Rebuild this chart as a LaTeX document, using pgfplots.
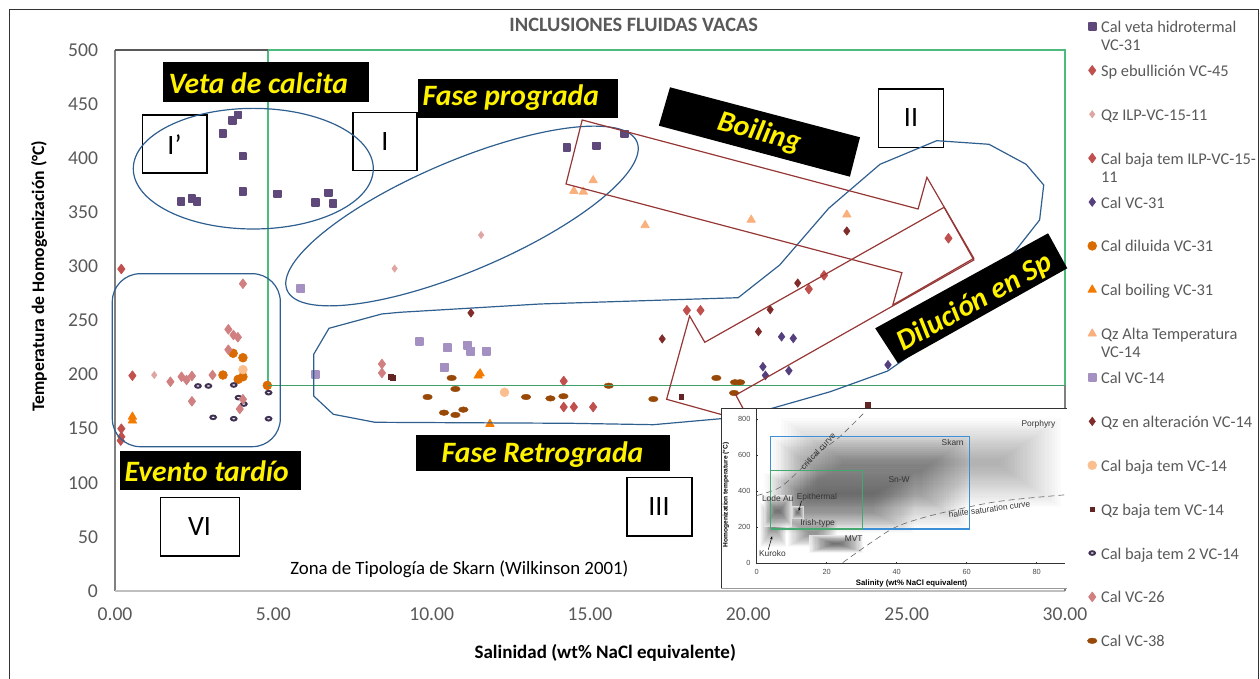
\documentclass[border=0pt]{standalone}
\usepackage{fontspec}
\setmainfont{Carlito}
\newfontfamily\insetfont{Liberation Sans}
\usepackage{pgfplots}
\pgfplotsset{compat=1.18}
\usetikzlibrary{arrows.meta}
\definecolor{cVeta}{HTML}{5F497A}
\definecolor{cSp}{HTML}{C0504D}
\definecolor{cIlp}{HTML}{DFA5A3}
\definecolor{cBaja}{HTML}{C0504D}
\definecolor{cC31}{HTML}{54407E}
\definecolor{cDil}{HTML}{D96B00}
\definecolor{cBoil}{HTML}{F57A00}
\definecolor{cAlta}{HTML}{FAB07D}
\definecolor{cC14}{HTML}{A590C2}
\definecolor{cQzAlt}{HTML}{7F2C2A}
\definecolor{cBaja14}{HTML}{FBBF8F}
\definecolor{cQzB}{HTML}{632523}
\definecolor{cB2}{HTML}{403152}
\definecolor{cC26}{HTML}{D08080}
\definecolor{cC38}{HTML}{984807}
\definecolor{gridgreen}{HTML}{4CBB7D}
\definecolor{zoneblue}{HTML}{2F5F8F}
\definecolor{arrowred}{HTML}{953735}
\definecolor{tickgray}{HTML}{595959}
\pgfdeclareplotmark{oval}{\pgfpathellipse{\pgfpointorigin}{\pgfqpoint{2.4pt}{0pt}}{\pgfqpoint{0pt}{1.4pt}}\pgfusepathqfillstroke}
\pgfdeclareplotmark{ringoval}{\pgfpathellipse{\pgfpointorigin}{\pgfqpoint{1.4pt}{0pt}}{\pgfqpoint{0pt}{0.9pt}}\pgfusepathqfillstroke}
\newcommand{\leg}[2]{\raisebox{0pt}[8pt][13.9pt]{\begin{tabular}[t]{@{}l@{}}#1\\#2\end{tabular}}}
\newcommand{\blob}[7]{\foreach \i in {0,...,19} {\fill[black,opacity=#7] ({#1+\i*#5},{#2+\i*#6}) rectangle ({#3-\i*#5},{#4-\i*#6});}}
\tikzset{px/.style={x=0.5pt,y=-0.5pt,yshift=339.5pt},
  darkbox/.style={draw=black,line width=0.8pt},
  boxlab/.style={font=\fontsize{14}{14}\selectfont,text=black,anchor=center},
  ylab/.style={font=\fontsize{14.8}{15}\selectfont\bfseries\itshape,text=yellow,anchor=center}}
\pgfplotsset{ser/.style={only marks,mark options={solid},legend image code/.code={\draw[##1,mark repeat=1,yshift=0.3em] plot coordinates {(0pt,0pt)};}}}
\begin{document}
\begin{tikzpicture}
\useasboundingbox (0,0) rectangle (630pt,339.5pt);
\begin{axis}[
  at={(57.5pt,44pt)},anchor=south west,scale only axis,width=475pt,height=270.5pt,
  xmin=0,xmax=30,ymin=0,ymax=500,clip=false,
  axis line style={draw=none},tick style={draw=none},
  xtick={0,5,10,15,20,25,30},ytick={0,50,100,150,200,250,300,350,400,450,500},
  /pgf/number format/assume math mode=true,
  xticklabel style={/pgf/number format/fixed,/pgf/number format/fixed zerofill,/pgf/number format/precision=2},
  tick label style={font=\fontsize{9.8}{10}\selectfont,text=tickgray},
  xticklabel style={yshift=-5pt},yticklabel style={xshift=-5pt},
  every axis x label/.style={at={(axis description cs:0.516,-0.1146)},anchor=center},
  every axis y label/.style={at={(axis description cs:-0.08,0.582)},rotate=90,anchor=center},
  xlabel={\fontsize{9.5}{10}\selectfont\bfseries Salinidad (wt\% NaCl equivalente)},
  ylabel={\fontsize{8.8}{10}\selectfont\bfseries Temperatura de Homogenización (°C)},
  title={\fontsize{10.2}{11}\selectfont\bfseries INCLUSIONES FLUIDAS VACAS},
  title style={at={(axis description cs:0.546,1.024)},anchor=center,text=tickgray},
  legend style={at={(rel axis cs:1.0232,1.0627)},anchor=north west,draw=none,fill=none,
    font=\fontsize{8.2}{9}\selectfont,text=tickgray,inner sep=0pt,row sep=12.44pt,
    nodes={inner sep=0pt},cells={anchor=base west}},
  /tikz/every even column/.append style={column sep=0pt},
  /tikz/every odd column/.append style={column sep=2pt},
]
\addplot[forget plot,gridgreen,line width=0.8pt] coordinates {(4.83,190)(4.83,500)(30,500)(30,190)};

\addplot[ser,mark=square*,mark size=1.7pt,cVeta,fill=cVeta,line width=0.9pt,line join=round] coordinates {
(3.89,440)(3.72,435)(3.41,423)(4.04,402)(4.04,369)(2.09,360)(2.43,363)(2.59,360)(5.14,367)(6.33,359)(6.75,368)(6.89,358)(14.27,410)(15.2,411.4)(16.08,422.4)};
\addlegendentry{\leg{Cal veta hidrotermal}{VC-31}}
\addplot[ser,mark=diamond*,mark size=2.4pt,cSp,fill=cSp,line width=0.4pt,line join=round] coordinates {
(18.06,259.4)(18.49,259.4)(21.91,279)(22.39,291.7)(26.32,326)};
\addlegendentry{\leg{Sp ebullición VC-45}{}}
\addplot[ser,mark=diamond*,mark size=1.8pt,cIlp,fill=cIlp,line width=0.3pt] coordinates {
(1.24,199.6)(8.83,298)(11.56,329)};
\addlegendentry{\leg{Qz ILP-VC-15-11}{}}
\addplot[ser,mark=diamond*,mark size=2.4pt,cBaja,fill=cBaja,line width=0.4pt,line join=round] coordinates {
(0.2,297.6)(0.55,199)(0.2,150)(0.2,142.6)(0.18,139)(14.17,194)(14.17,170)(14.49,170)(15.1,170)};
\addlegendentry{\leg{Cal baja tem ILP-VC-15-}{11}}
\addplot[ser,mark=diamond*,mark size=2.2pt,cC31,fill=cC31,line width=0.3pt] coordinates {
(20.46,207.3)(20.54,199.3)(21.28,203.6)(21.05,235)(21.42,233.5)(24.41,209)};
\addlegendentry{\leg{Cal VC-31}{}}
\addplot[ser,mark=*,mark size=2.2pt,cDil,fill=cDil,line width=0.3pt] coordinates {
(3.73,219.7)(4.04,215.6)(3.41,199.6)(4.04,198)(3.89,195.6)(4.81,190)};
\addlegendentry{\leg{Cal diluida VC-31}{}}
\addplot[ser,mark=triangle*,mark size=2.4pt,cBoil,fill=cBoil,line width=0.4pt,line join=round] coordinates {
(0.55,161)(0.55,157.4)(11.53,201)(11.47,199)(11.84,154.3)};
\addlegendentry{\leg{Cal boiling VC-31}{}}
\addplot[ser,mark=triangle*,mark size=2.4pt,cAlta,fill=cAlta,line width=0.4pt,line join=round] coordinates {
(14.49,369.7)(14.79,369)(15.1,379.5)(16.74,338)(20.09,343)(23.11,347.8)};
\addlegendentry{\leg{Qz Alta Temperatura}{VC-14}}
\addplot[ser,mark=square*,mark size=1.8pt,cC14,fill=cC14,line width=0.9pt,line join=round] coordinates {
(5.87,279.7)(6.33,200)(9.62,230.4)(10.5,224.6)(11.13,227.3)(11.24,221.8)(11.73,221.8)(10.39,207)};
\addlegendentry{\leg{Cal VC-14}{}}
\addplot[ser,mark=diamond*,mark size=2.1pt,cQzAlt,fill=cQzAlt,line width=0.3pt] coordinates {
(23.11,332.7)(21.56,284.6)(20.69,260)(20.32,239.7)(17.28,233)(11.24,257)};
\addlegendentry{\leg{Qz en alteración VC-14}{}}
\addplot[ser,mark=*,mark size=2.2pt,cBaja14,fill=cBaja14,line width=0.3pt] coordinates {
(4.04,204.6)(12.3,183.6)};
\addlegendentry{\leg{Cal baja tem VC-14}{}}
\addplot[ser,mark=square*,mark size=1.2pt,cQzB,fill=cQzB,line width=0.2pt] coordinates {
(8.7,197.8)(8.76,197.5)(17.88,179.6)(23.76,172)};
\addlegendentry{\leg{Qz baja tem VC-14}{}}
\addplot[ser,mark=ringoval,cB2,fill=white,line width=1pt] coordinates {
(2.62,189.5)(2.95,189.5)(3.75,190.4)(4.85,183.3)(3.9,178.7)(4.07,172.8)(3.1,160.5)(3.75,159.2)(4.85,159.2)};
\addlegendentry{\leg{Cal baja tem 2 VC-14}{}}
\addplot[ser,mark=diamond*,mark size=2.4pt,cC26,fill=cC26,line width=0.4pt,line join=round] coordinates {
(4.04,284)(3.58,241.8)(3.74,236.6)(3.88,234.5)(3.58,223)(3.08,199.6)(2.1,198)(2.26,195)(2.43,198.7)(1.75,193.4)(2.43,175.3)(4.04,177.2)(3.94,168.2)(8.43,209.8)(8.43,201.5)};
\addlegendentry{\leg{Cal VC-26}{}}
\addplot[ser,mark=oval,cC38,fill=cC38,line width=0.2pt] coordinates {
(10.63,196.9)(10.75,186.7)(9.87,179.3)(10.39,164.8)(10.75,162.7)(11,167.6)(12.98,179.3)(13.75,178)(14.16,180)(15.59,189.7)(17,177.4)(18.99,196.9)(19.58,192.9)(19.74,192.9)(19.55,183)};
\addlegendentry{\leg{Cal VC-38}{}}
\end{axis}

\begin{scope}[px]
% outer chart frame
\draw[line width=0.5pt,black!80] (9.5,679) -- (9.5,9.5) -- (1258,9.5) -- (1258,679);
% axis spines
\draw[line width=0.6pt,gray] (115,50) -- (115,591);
\draw[line width=0.6pt,black!25] (115,591) -- (1065,591);
\draw[line width=0.6pt,black!65] (115,50) -- (268,50);
\draw[line width=0.6pt,gray] (1065,385) -- (1065,591);
\draw[line width=0.4pt,gridgreen!85!black] (268,385) -- (1065,385);
% numbered boxes
\draw[darkbox] (142.3,115) rectangle (206.7,173.3);
\node[boxlab] at (174.5,144.5) {I’};
\draw[darkbox] (352.7,112.7) rectangle (417,170.7);
\node[boxlab] at (385,142) {I};
\draw[darkbox] (878.6,89) rectangle (943.4,147.7);
\node[boxlab] at (911,118) {II};
\draw[darkbox] (626.7,477.7) rectangle (691.7,536.3);
\node[boxlab] at (659,507) {III};
\draw[darkbox] (160.3,497.7) rectangle (239.3,556.3);
\node[boxlab] at (199.5,527) {VI};
% zones
\draw[zoneblue,line width=0.6pt] (253.3,168.7) ellipse [x radius=120,y radius=60.3];
\draw[zoneblue,line width=0.6pt,rotate around={23:(462,216)}] (462,216) ellipse [x radius=190,y radius=55];
\draw[zoneblue,line width=0.6pt,rounded corners=14pt] (112.3,273.7) rectangle (280.3,446.7);
\draw[zoneblue,line width=0.6pt] (329,328.3) -- (313.7,354.3) -- (313.7,396) -- (333.3,414.3) -- (375,422.3) -- (570,423.3) -- (653.3,424.7) -- (740,417) -- (766.2,410) -- (830.3,391.7) -- (887.7,371) -- (908,356.7) -- (1016,250) -- (1039.6,220) -- (1043.7,185) -- (1026.1,164.3) -- (989,144.3) -- (936.7,140.7) -- (880,164.3) -- (828.7,208.3) -- (779.7,265) -- (738.2,297.7) -- (540,304) -- (400,312.3) -- (381.7,314) -- cycle;
% arrows
\draw[arrowred,line width=0.6pt] (582.2,120) -- (918.1,209) -- (926.9,177.3) -- (973.8,258.3) -- (892.8,305) -- (901.9,272.7) -- (566,184) -- cycle;
\draw[arrowred,line width=0.6pt] (944.1,207.3) -- (704.8,342.3) -- (689.6,316) -- (666.6,399.3) -- (750.7,422.7) -- (735.8,395) -- (973.8,260) -- cycle;
% black labels
\fill[black] (163.3,62) rectangle (369.3,101.7);
\node[ylab] at (258.3,83) {Veta de calcita};
\fill[black] (418,79) rectangle (617.7,117.7);
\node[ylab] at (510.8,98) {Fase prograda};
\fill[black] (415.7,435) rectangle (669.5,470.7);
\node[ylab] at (542.5,455) {Fase Retrograda};
\fill[black] (120.3,451) rectangle (301,489.7);
\node[ylab] at (206.7,471) {Evento tardío};
\fill[black] (670,87.3) -- (860,137.3) -- (849.9,176.7) -- (658.8,125.7) -- cycle;
\node[ylab,rotate=-15] at (759.4,133) {Boiling};
\fill[black] (1048.1,233.3) -- (1067.3,268.3) -- (897.9,363.3) -- (875.2,328.3) -- cycle;
\node[ylab,rotate=29] at (975,303) {Dilución en Sp};
\node[font=\fontsize{9.4}{10}\selectfont,anchor=base west,inner sep=0pt,text=black] at (290,575) {Zona de Tipología de Skarn (Wilkinson 2001)};
% inset frame
\fill[white] (721,409) rectangle (1067,589);
\draw[black!80,line width=0.5pt] (721,589) -- (721,409) -- (1067,409);
\draw[black!40,line width=0.5pt] (721,589) -- (1067,589);
\end{scope}

% inset: skarn typology after Wilkinson (2001), coordinates in wt% and °C
\begin{scope}[shift={(378.35pt,57.85pt)},x=1.75pt,y=0.09025pt]
\blob{7}{310}{87}{803}{0.9}{12}{0.017}
\blob{4}{190}{60.5}{702}{0.7}{10}{0.017}
\blob{2}{166}{45}{502}{0.6}{6}{0.015}
\blob{1}{92}{8.5}{332}{0.18}{5.5}{0.025}
\blob{9}{92}{23}{240}{0.3}{3.5}{0.025}
\fill[white,opacity=0.7] (2,203) rectangle (10,378);
\blob{2}{203}{10}{378}{0.18}{4.5}{0.03}
\fill[white,opacity=0.8] (10,244) rectangle (13.5,318);
\blob{10}{244}{13.5}{318}{0.08}{1.8}{0.03}
\fill[white,opacity=0.85] (15,59) rectangle (30.5,157);
\blob{15}{59}{30.5}{157}{0.35}{2.4}{0.035}
\end{scope}
\begin{axis}[
  at={(378.35pt,57.85pt)},anchor=south west,scale only axis,width=154pt,height=77.2pt,
  xmin=0,xmax=88,ymin=0,ymax=855,clip=false,
  axis x line=bottom,axis y line=left,axis line style={-,draw=black!80,line width=0.3pt},
  xtick={0,20,40,60,80},ytick={0,200,400,600,800},
  tick style={draw=black!80,line width=0.25pt},major tick length=1.2pt,
  tick label style={font=\insetfont\fontsize{3.7}{4}\selectfont,text=black!70},
  /pgf/number format/assume math mode=true,
  xticklabel style={yshift=1pt},yticklabel style={xshift=1pt},
  every axis x label/.style={at={(axis description cs:0.503,-0.128)},anchor=center},
  every axis y label/.style={at={(axis description cs:-0.10,0.443)},rotate=90,anchor=center},
  xlabel={\insetfont\fontsize{3.9}{4}\selectfont\bfseries Salinity (wt\% NaCl equivalent)},
  ylabel={\insetfont\fontsize{3.3}{4}\selectfont\bfseries Homogenization temperature (°C)},
]
\addplot[black!60,densely dashed,line width=0.3pt,smooth] coordinates {(0,375)(6.7,421)(13.3,535)(18.1,619)(23.8,702)(31,840)};
\addplot[black!60,densely dashed,line width=0.3pt,smooth] coordinates {(24.6,4)(32.4,111)(40,203)(50.5,268)(65.7,332)(75,356)(88,379)};
\addplot[color={rgb,255:red,60;green,143;blue,214},line width=0.6pt] coordinates {(4,190)(4,702)(60.7,702)(60.7,190)(4,190)};
\addplot[color=gridgreen!90!black,line width=0.6pt] coordinates {(4,190)(4,513)(30.3,513)(30.3,190)(4,190)};
\tikzset{il/.style={font=\insetfont\fontsize{4.2}{5}\selectfont,text=black!80,inner sep=0pt,anchor=center}}
\node[il] at (axis cs:80.5,770) {Porphyry};
\node[il] at (axis cs:56,670) {Skarn};
\node[il] at (axis cs:40.7,465) {Sn-W};
\node[il] at (axis cs:6,358) {Lode Au};
\node[il] at (axis cs:17.2,365) {Epithermal};
\node[il] at (axis cs:17.4,220) {Irish-type};
\node[il] at (axis cs:27.7,135) {MVT};
\node[il] at (axis cs:4.5,55) {Kuroko};
\node[il,rotate=47] at (axis cs:17.5,620) {critical curve};
\node[il,rotate=8] at (axis cs:66.5,300) {halite saturation curve};
\draw[-{Stealth[length=1.5pt]},line width=0.25pt] (axis cs:12.8,345) -- (axis cs:12,290);
\draw[-{Stealth[length=1.5pt]},line width=0.25pt] (axis cs:3.3,75) -- (axis cs:4.4,150);
\end{axis}
\end{tikzpicture}
\end{document}
